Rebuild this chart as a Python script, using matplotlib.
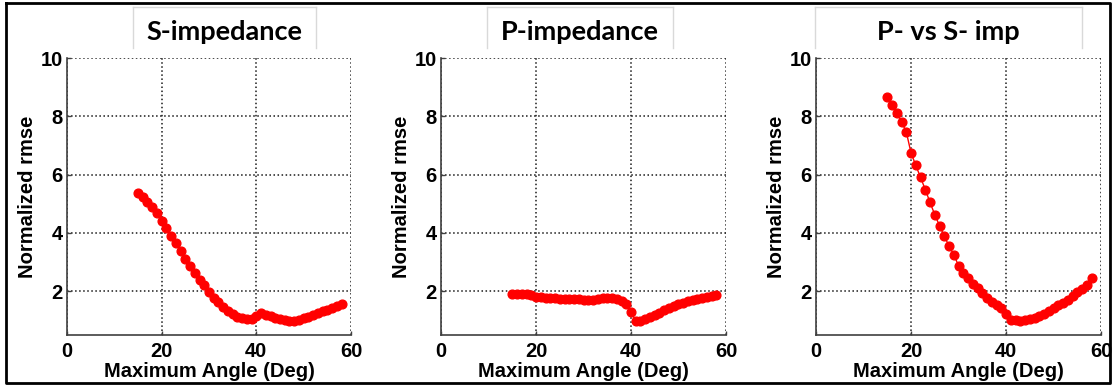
import numpy as np
import matplotlib
matplotlib.use("Agg")
import matplotlib.pyplot as plt
from matplotlib.lines import Line2D
from matplotlib.font_manager import FontProperties

# maximum incidence angle used in the inversion (deg)
angle = np.arange(15, 59)

# normalized rmse per property, one value per angle
s_imp = [5.37, 5.23, 5.06, 4.88, 4.68, 4.42, 4.16, 3.90, 3.64, 3.38,
         3.11, 2.86, 2.63, 2.40, 2.20, 1.98, 1.78, 1.62, 1.46, 1.32,
         1.22, 1.13, 1.07, 1.05, 1.06, 1.16, 1.26, 1.20, 1.14, 1.09,
         1.04, 1.00, 0.98, 0.99, 1.03, 1.08, 1.13, 1.19, 1.25, 1.31,
         1.36, 1.42, 1.48, 1.58]
p_imp = [1.89, 1.89, 1.89, 1.89, 1.88, 1.80, 1.79, 1.78, 1.77, 1.76,
         1.75, 1.75, 1.74, 1.73, 1.72, 1.71, 1.70, 1.71, 1.74, 1.76,
         1.77, 1.77, 1.74, 1.67, 1.57, 1.28, 0.99, 0.99, 1.04, 1.11,
         1.19, 1.27, 1.35, 1.43, 1.50, 1.56, 1.61, 1.65, 1.69, 1.73,
         1.77, 1.80, 1.83, 1.87]
ps_imp = [8.65, 8.38, 8.13, 7.81, 7.47, 6.75, 6.32, 5.91, 5.49, 5.05,
          4.63, 4.25, 3.90, 3.55, 3.26, 2.88, 2.62, 2.44, 2.26, 2.11,
          1.94, 1.78, 1.63, 1.52, 1.41, 1.21, 1.03, 1.00, 0.98, 1.00,
          1.04, 1.08, 1.14, 1.23, 1.32, 1.41, 1.52, 1.61, 1.71, 1.84,
          1.97, 2.09, 2.22, 2.47]

titles = ["S-impedance", "P-impedance", "P- vs S- imp"]
series = [s_imp, p_imp, ps_imp]
xticks = [0, 20, 40, 60]
yticks = [2, 4, 6, 8, 10]

W, H = 1112, 388
fig = plt.figure(figsize=(W / 100, H / 100), dpi=100)
fig.patch.set_facecolor("white")

def fx(px):
    return px / W

def fy(py):
    return 1 - py / H

# pixel layout of each panel: axes left/right, title box left/right, title centre
panels = [
    (67, 351, 133, 316, 224),
    (441, 726, 487, 673, 580),
    (816, 1101, 815, 1082, 948),
]
ax_top, ax_bot = 58, 335

lab_font = dict(family="Liberation Sans", weight="bold", size=14.5)
tick_font = FontProperties(family="Liberation Sans", weight="bold", size=14.5)

for (l, r, bl, br, tc), title, y in zip(panels, titles, series):
    ax = fig.add_axes([fx(l), fy(ax_bot), fx(r - l), (ax_bot - ax_top) / H])
    ax.plot(angle, y, "-o", color="red", lw=1, ms=6.3, mec="red", mfc="red", clip_on=False)
    ax.set_xlim(0, 60)
    ax.set_ylim(0.5, 10)
    ax.set_xticks(xticks)
    ax.set_yticks(yticks)
    ax.grid(True, ls=":", color="0.1", lw=1.1)
    ax.set_axisbelow(True)
    for side in ("top", "right"):
        ax.spines[side].set_visible(False)
    for side in ("left", "bottom"):
        ax.spines[side].set_color("0.25")
        ax.spines[side].set_linewidth(1.2)
    ax.tick_params(direction="in", length=3, width=1, color="0.25")
    ax.tick_params(axis="x", pad=5)
    ax.tick_params(axis="y", pad=3)
    for t in ax.get_xticklabels() + ax.get_yticklabels():
        t.set_fontproperties(tick_font)
    ax.set_xlabel("Maximum Angle (Deg)", labelpad=1, **lab_font)
    ax.set_ylabel("Normalized rmse", labelpad=2.5, **lab_font)

    # title box with light grey side and top edges
    for xs, ys in (([bl, bl], [7, 48]), ([br, br], [7, 48]), ([bl, br], [7, 7])):
        fig.add_artist(Line2D([fx(v) for v in xs], [fy(v) for v in ys],
                              color="0.85", lw=1))
    fig.text(fx(tc), fy(32), title, ha="center", va="center",
             family="Lato", weight="bold", size=19.5)

# black frame around the whole figure
fig.add_artist(Line2D([fx(6), fx(1110), fx(1110), fx(6), fx(6)],
                      [fy(3), fy(3), fy(383), fy(383), fy(3)],
                      color="black", lw=2))

fig.savefig("out.png", dpi=100)
